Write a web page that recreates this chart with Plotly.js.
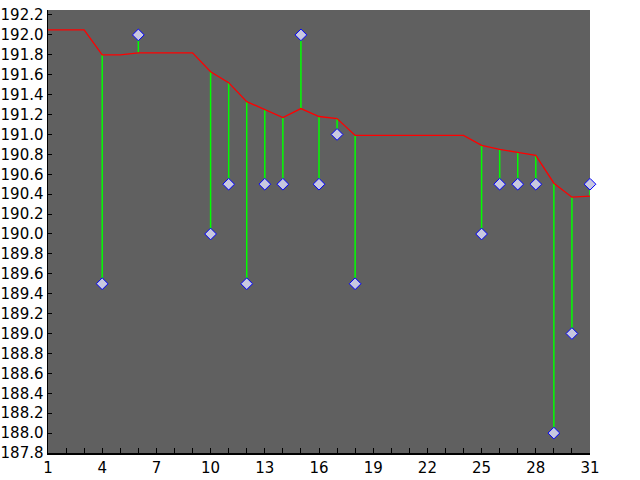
<!DOCTYPE html>
<html>
<head>
<meta charset="utf-8">
<script src="https://cdn.plot.ly/plotly-3.0.1.min.js"></script>
<style>
  html, body { margin:0; padding:0; background:#ffffff; }
  #chart { width:640px; height:480px; }
</style>
</head>
<body>
<div id="chart"></div>
<script>
// days of the month
const days = [1,2,3,4,5,6,7,8,9,10,11,12,13,14,15,16,17,18,19,20,21,22,23,24,25,26,27,28,29,30,31];
// red line values, one per day
const lineVals = [192.05,192.05,192.05,191.80,191.80,191.82,191.82,191.82,191.82,191.63,191.52,191.33,
  191.25,191.17,191.26,191.18,191.16,190.99,190.99,190.99,190.99,190.99,190.99,190.99,
  190.89,190.85,190.82,190.79,190.51,190.37,190.38];
// observed points
const pointDays = [4,6,10,11,12,13,14,15,16,17,18,25,26,27,28,29,30,31];
const pointVals = [189.5,192.0,190.0,190.5,189.5,190.5,190.5,192.0,190.5,191.0,189.5,190.0,190.5,190.5,190.5,188.0,189.0,190.5];
const xTicks = [1,4,7,10,13,16,19,22,25,28,31];

// green drop lines from the red line to each point
const dropX = [], dropY = [];
pointDays.forEach(function(d, i){
  const base = lineVals[days.indexOf(d)];
  dropX.push(d, d, null);
  dropY.push(base, pointVals[i], null);
});

const drops = {
  x: dropX, y: dropY, type:"scatter", mode:"lines",
  line:{color:"#00ff00", width:1.5}, hoverinfo:"skip"
};
const line = {
  x: days, y: lineVals, type:"scatter", mode:"lines",
  line:{color:"#ff0000", width:1.3}
};
const pts = {
  x: pointDays, y: pointVals, type:"scatter", mode:"markers",
  marker:{symbol:"diamond", size:9, color:"#c8c8e0", line:{color:"#0000ff", width:1}},
  cliponaxis:false
};

const layout = {
  width:640, height:480,
  margin:{l:48, r:50, t:10, b:27},
  paper_bgcolor:"#ffffff", plot_bgcolor:"#606060",
  showlegend:false,
  font:{family:"DejaVu Sans", size:15, color:"#000000"},
  xaxis:{
    range:[1,31], tickvals:xTicks, ticks:"inside", ticklen:5, tickcolor:"#000000",
    minor:{dtick:1, ticks:"inside", ticklen:5, tickcolor:"#000000"},
    showline:true, linecolor:"#000000", linewidth:1.5,
    showgrid:false, zeroline:false, tickfont:{size:15}
  },
  yaxis:{
    range:[187.8,192.25], tick0:187.8, dtick:0.2, tickformat:".1f",
    ticks:"inside", ticklen:4, tickcolor:"#000000",
    showline:true, linecolor:"#000000", linewidth:1.5,
    showgrid:false, zeroline:false, tickfont:{size:15}
  }
};

Plotly.newPlot("chart", [drops, line, pts], layout, {displayModeBar:false, staticPlot:true});
</script>
</body>
</html>
